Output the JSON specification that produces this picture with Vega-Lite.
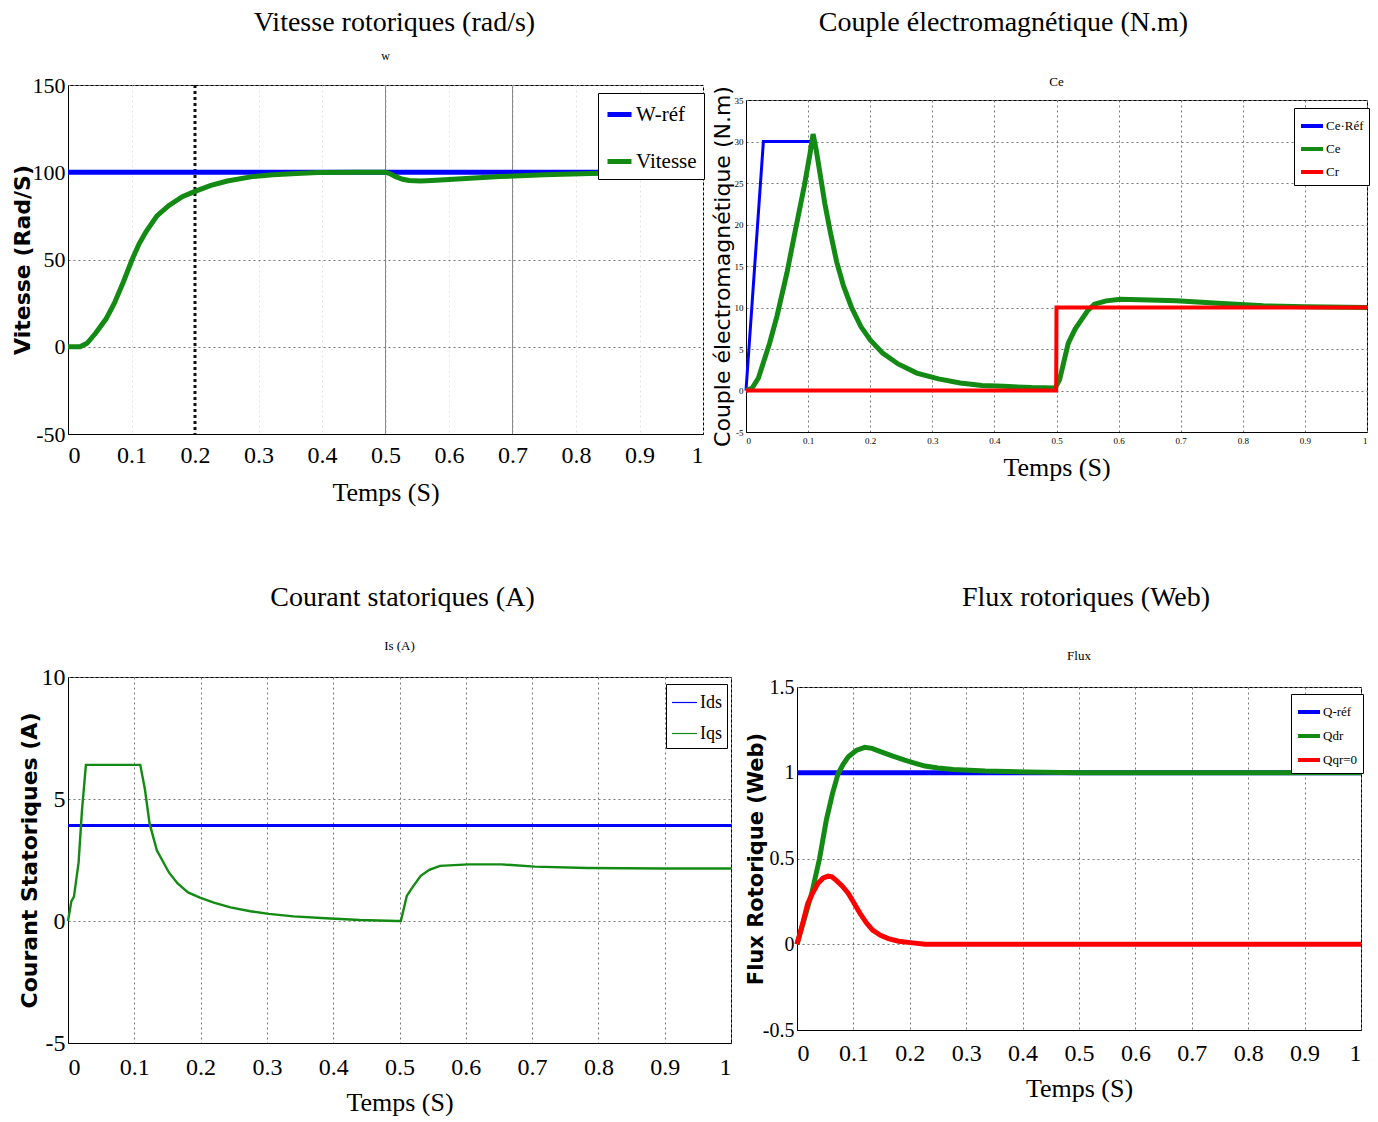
{
  "$schema": "https://vega.github.io/schema/vega-lite/v6.json",
  "background": "white",
  "padding": {"left": 10, "top": 8, "right": 0, "bottom": 0},
  "config": {
    "view": {"stroke": "black", "strokeWidth": 1},
    "axis": {"domainColor": "black", "ticks": false, "grid": true, "gridDash": [2, 3], "gridColor": "#777", "labelColor": "black", "titleColor": "black", "labelFont": "Liberation Serif", "titleFont": "Liberation Serif", "titleFontWeight": "normal", "labelPadding": 3, "labelExpr": "replace(datum.label, '−', '-')"},
    "title": {"font": "Liberation Serif", "fontWeight": "normal", "color": "black"}
  },
  "datasets": {
    "p1": [
      {"t": 0, "v": 100, "s": "W-réf"}, {"t": 1, "v": 100, "s": "W-réf"},
      {"t": 0, "v": 0, "s": "Vitesse"}, {"t": 0.019, "v": 0, "s": "Vitesse"}, {"t": 0.03, "v": 2, "s": "Vitesse"}, {"t": 0.044, "v": 8, "s": "Vitesse"}, {"t": 0.06, "v": 16, "s": "Vitesse"}, {"t": 0.073, "v": 25, "s": "Vitesse"}, {"t": 0.087, "v": 37, "s": "Vitesse"}, {"t": 0.101, "v": 50, "s": "Vitesse"}, {"t": 0.112, "v": 59, "s": "Vitesse"}, {"t": 0.123, "v": 66, "s": "Vitesse"}, {"t": 0.14, "v": 75, "s": "Vitesse"}, {"t": 0.159, "v": 81, "s": "Vitesse"}, {"t": 0.18, "v": 86, "s": "Vitesse"}, {"t": 0.2, "v": 89, "s": "Vitesse"}, {"t": 0.225, "v": 92.5, "s": "Vitesse"}, {"t": 0.251, "v": 95, "s": "Vitesse"}, {"t": 0.29, "v": 97.5, "s": "Vitesse"}, {"t": 0.323, "v": 98.5, "s": "Vitesse"}, {"t": 0.36, "v": 99.3, "s": "Vitesse"}, {"t": 0.394, "v": 99.8, "s": "Vitesse"}, {"t": 0.45, "v": 100, "s": "Vitesse"}, {"t": 0.5, "v": 100, "s": "Vitesse"}, {"t": 0.508, "v": 99, "s": "Vitesse"}, {"t": 0.516, "v": 97.5, "s": "Vitesse"}, {"t": 0.527, "v": 96, "s": "Vitesse"}, {"t": 0.537, "v": 95.3, "s": "Vitesse"}, {"t": 0.555, "v": 95, "s": "Vitesse"}, {"t": 0.573, "v": 95.3, "s": "Vitesse"}, {"t": 0.62, "v": 96.3, "s": "Vitesse"}, {"t": 0.68, "v": 97.5, "s": "Vitesse"}, {"t": 0.75, "v": 98.5, "s": "Vitesse"}, {"t": 0.823, "v": 99.3, "s": "Vitesse"}, {"t": 0.9, "v": 99.8, "s": "Vitesse"}, {"t": 1, "v": 100, "s": "Vitesse"}
    ],
    "p2": [
      {"t": 0, "v": 0, "s": "Ce·Réf"}, {"t": 0.028, "v": 30, "s": "Ce·Réf"}, {"t": 0.108, "v": 30, "s": "Ce·Réf"},
      {"t": 0, "v": 0, "s": "Ce"}, {"t": 0.01, "v": 0.3, "s": "Ce"}, {"t": 0.02, "v": 1.5, "s": "Ce"}, {"t": 0.038, "v": 5.7, "s": "Ce"}, {"t": 0.05, "v": 9, "s": "Ce"}, {"t": 0.066, "v": 14.2, "s": "Ce"}, {"t": 0.08, "v": 19.5, "s": "Ce"}, {"t": 0.094, "v": 24.7, "s": "Ce"}, {"t": 0.103, "v": 28.5, "s": "Ce"}, {"t": 0.108, "v": 30.9, "s": "Ce"}, {"t": 0.113, "v": 29, "s": "Ce"}, {"t": 0.118, "v": 26.7, "s": "Ce"}, {"t": 0.127, "v": 22.5, "s": "Ce"}, {"t": 0.136, "v": 19, "s": "Ce"}, {"t": 0.146, "v": 15.5, "s": "Ce"}, {"t": 0.157, "v": 12.6, "s": "Ce"}, {"t": 0.17, "v": 10, "s": "Ce"}, {"t": 0.185, "v": 7.7, "s": "Ce"}, {"t": 0.2, "v": 6.1, "s": "Ce"}, {"t": 0.22, "v": 4.5, "s": "Ce"}, {"t": 0.245, "v": 3.2, "s": "Ce"}, {"t": 0.275, "v": 2.1, "s": "Ce"}, {"t": 0.31, "v": 1.4, "s": "Ce"}, {"t": 0.345, "v": 0.9, "s": "Ce"}, {"t": 0.38, "v": 0.6, "s": "Ce"}, {"t": 0.415, "v": 0.5, "s": "Ce"}, {"t": 0.46, "v": 0.35, "s": "Ce"}, {"t": 0.498, "v": 0.3, "s": "Ce"}, {"t": 0.505, "v": 1.3, "s": "Ce"}, {"t": 0.512, "v": 3.5, "s": "Ce"}, {"t": 0.519, "v": 5.7, "s": "Ce"}, {"t": 0.53, "v": 7.4, "s": "Ce"}, {"t": 0.54, "v": 8.5, "s": "Ce"}, {"t": 0.55, "v": 9.6, "s": "Ce"}, {"t": 0.561, "v": 10.4, "s": "Ce"}, {"t": 0.58, "v": 10.8, "s": "Ce"}, {"t": 0.603, "v": 11, "s": "Ce"}, {"t": 0.65, "v": 10.9, "s": "Ce"}, {"t": 0.693, "v": 10.8, "s": "Ce"}, {"t": 0.76, "v": 10.5, "s": "Ce"}, {"t": 0.833, "v": 10.2, "s": "Ce"}, {"t": 0.9, "v": 10.1, "s": "Ce"}, {"t": 1, "v": 10, "s": "Ce"},
      {"t": 0, "v": 0, "s": "Cr"}, {"t": 0.4995, "v": 0, "s": "Cr"}, {"t": 0.5, "v": 10, "s": "Cr"}, {"t": 1, "v": 10, "s": "Cr"}
    ],
    "p3": [
      {"t": 0, "v": 3.91, "s": "Ids"}, {"t": 1, "v": 3.91, "s": "Ids"},
      {"t": 0, "v": 0, "s": "Iqs"}, {"t": 0.005, "v": 0.8, "s": "Iqs"}, {"t": 0.009, "v": 1.0, "s": "Iqs"}, {"t": 0.016, "v": 2.4, "s": "Iqs"}, {"t": 0.021, "v": 4.5, "s": "Iqs"}, {"t": 0.027, "v": 6.4, "s": "Iqs"}, {"t": 0.06, "v": 6.4, "s": "Iqs"}, {"t": 0.109, "v": 6.4, "s": "Iqs"}, {"t": 0.116, "v": 5.4, "s": "Iqs"}, {"t": 0.123, "v": 4.0, "s": "Iqs"}, {"t": 0.134, "v": 2.9, "s": "Iqs"}, {"t": 0.152, "v": 2.0, "s": "Iqs"}, {"t": 0.165, "v": 1.55, "s": "Iqs"}, {"t": 0.181, "v": 1.17, "s": "Iqs"}, {"t": 0.199, "v": 0.96, "s": "Iqs"}, {"t": 0.22, "v": 0.75, "s": "Iqs"}, {"t": 0.245, "v": 0.56, "s": "Iqs"}, {"t": 0.275, "v": 0.4, "s": "Iqs"}, {"t": 0.303, "v": 0.29, "s": "Iqs"}, {"t": 0.34, "v": 0.19, "s": "Iqs"}, {"t": 0.389, "v": 0.11, "s": "Iqs"}, {"t": 0.44, "v": 0.04, "s": "Iqs"}, {"t": 0.496, "v": 0, "s": "Iqs"}, {"t": 0.502, "v": 0, "s": "Iqs"}, {"t": 0.511, "v": 1.03, "s": "Iqs"}, {"t": 0.52, "v": 1.4, "s": "Iqs"}, {"t": 0.532, "v": 1.85, "s": "Iqs"}, {"t": 0.545, "v": 2.1, "s": "Iqs"}, {"t": 0.561, "v": 2.26, "s": "Iqs"}, {"t": 0.604, "v": 2.32, "s": "Iqs"}, {"t": 0.654, "v": 2.32, "s": "Iqs"}, {"t": 0.704, "v": 2.23, "s": "Iqs"}, {"t": 0.783, "v": 2.17, "s": "Iqs"}, {"t": 0.9, "v": 2.15, "s": "Iqs"}, {"t": 1, "v": 2.15, "s": "Iqs"}
    ],
    "p4": [
      {"t": 0, "v": 1, "s": "Q-réf"}, {"t": 1, "v": 1, "s": "Q-réf"},
      {"t": 0, "v": 0, "s": "Qdr"}, {"t": 0.026, "v": 0.296, "s": "Qdr"}, {"t": 0.04, "v": 0.5, "s": "Qdr"}, {"t": 0.052, "v": 0.724, "s": "Qdr"}, {"t": 0.063, "v": 0.88, "s": "Qdr"}, {"t": 0.073, "v": 0.996, "s": "Qdr"}, {"t": 0.082, "v": 1.05, "s": "Qdr"}, {"t": 0.091, "v": 1.093, "s": "Qdr"}, {"t": 0.105, "v": 1.13, "s": "Qdr"}, {"t": 0.12, "v": 1.148, "s": "Qdr"}, {"t": 0.133, "v": 1.142, "s": "Qdr"}, {"t": 0.148, "v": 1.123, "s": "Qdr"}, {"t": 0.17, "v": 1.097, "s": "Qdr"}, {"t": 0.191, "v": 1.074, "s": "Qdr"}, {"t": 0.21, "v": 1.055, "s": "Qdr"}, {"t": 0.227, "v": 1.039, "s": "Qdr"}, {"t": 0.25, "v": 1.028, "s": "Qdr"}, {"t": 0.277, "v": 1.019, "s": "Qdr"}, {"t": 0.334, "v": 1.01, "s": "Qdr"}, {"t": 0.406, "v": 1.004, "s": "Qdr"}, {"t": 0.5, "v": 1.0, "s": "Qdr"}, {"t": 1, "v": 1.0, "s": "Qdr"},
      {"t": 0, "v": 0, "s": "Qqr=0"}, {"t": 0.01, "v": 0.12, "s": "Qqr=0"}, {"t": 0.019, "v": 0.237, "s": "Qqr=0"}, {"t": 0.028, "v": 0.3, "s": "Qqr=0"}, {"t": 0.037, "v": 0.354, "s": "Qqr=0"}, {"t": 0.046, "v": 0.385, "s": "Qqr=0"}, {"t": 0.055, "v": 0.397, "s": "Qqr=0"}, {"t": 0.062, "v": 0.393, "s": "Qqr=0"}, {"t": 0.069, "v": 0.374, "s": "Qqr=0"}, {"t": 0.08, "v": 0.34, "s": "Qqr=0"}, {"t": 0.091, "v": 0.296, "s": "Qqr=0"}, {"t": 0.101, "v": 0.24, "s": "Qqr=0"}, {"t": 0.112, "v": 0.179, "s": "Qqr=0"}, {"t": 0.123, "v": 0.125, "s": "Qqr=0"}, {"t": 0.134, "v": 0.082, "s": "Qqr=0"}, {"t": 0.148, "v": 0.052, "s": "Qqr=0"}, {"t": 0.162, "v": 0.033, "s": "Qqr=0"}, {"t": 0.18, "v": 0.018, "s": "Qqr=0"}, {"t": 0.205, "v": 0.008, "s": "Qqr=0"}, {"t": 0.227, "v": 0, "s": "Qqr=0"}, {"t": 1, "v": 0, "s": "Qqr=0"}
    ]
  },
  "spacing": 77,
  "resolve": {"scale": {"color": "independent"}, "legend": {"color": "independent"}},
  "vconcat": [
    {
      "spacing": -4,
      "resolve": {"scale": {"color": "independent"}, "legend": {"color": "independent"}},
      "hconcat": [
        {
          "spacing": 2,
          "resolve": {"scale": {"color": "independent"}, "legend": {"color": "independent"}},
          "vconcat": [
            {
              "width": 635, "height": 1, "view": {"stroke": null},
              "data": {"values": [{}]}, "mark": {"type": "point", "opacity": 0}, "encoding": {},
              "title": {"text": "Vitesse rotoriques (rad/s)", "fontSize": 28, "offset": 4, "anchor": "middle", "dx": 9}
            },
            {
              "width": 635, "height": 349,
              "title": {"text": "w", "fontSize": 12, "offset": 11},
              "layer": [
                {
                  "data": {"values": [{"t": 0.5}, {"t": 0.7}]},
                  "mark": {"type": "rule", "color": "#888", "strokeWidth": 1},
                  "encoding": {"x": {"field": "t", "type": "quantitative", "scale": {"domain": [0, 1], "nice": false},
                    "axis": {"values": [0, 0.1, 0.2, 0.3, 0.4, 0.5, 0.6, 0.7, 0.8, 0.9, 1], "format": "~g", "labelFontSize": 24, "labelPadding": 9, "gridColor": "#e4e4e4", "title": "Temps (S)", "titleFontSize": 26, "titlePadding": 12}}}
                },
                {
                  "data": {"values": [{"t": 0.2}]},
                  "mark": {"type": "rule", "color": "#111", "strokeDash": [3, 3], "strokeWidth": 3},
                  "encoding": {"x": {"field": "t", "type": "quantitative"}}
                },
                {
                  "data": {"name": "p1"},
                  "transform": [{"filter": "datum.s === 'W-réf'"}],
                  "mark": {"type": "line", "strokeWidth": 5},
                  "encoding": {
                    "x": {"field": "t", "type": "quantitative"},
                    "y": {"field": "v", "type": "quantitative", "scale": {"domain": [-50, 150], "nice": false},
                      "axis": {"values": [-50, 0, 50, 100, 150], "labelFontSize": 22, "title": "Vitesse (Rad/S)", "titleFont": "DejaVu Sans", "titleFontWeight": "bold", "titleFontSize": 22, "titlePadding": -2}},
                    "color": {"field": "s", "type": "nominal", "scale": {"domain": ["W-réf", "Vitesse"], "range": ["#0000ff", "#138a13"]},
                      "legend": {"orient": "none", "legendX": 530, "legendY": 8, "title": null, "symbolType": "stroke", "symbolSize": 576, "symbolStrokeWidth": 5, "labelFont": "Liberation Serif", "labelFontSize": 21, "labelColor": "black", "strokeColor": "black", "fillColor": "white", "padding": 7, "rowPadding": 22, "labelOffset": 2}}
                  }
                },
                {
                  "data": {"name": "p1"},
                  "transform": [{"filter": "datum.s === 'Vitesse'"}],
                  "mark": {"type": "line", "strokeWidth": 5},
                  "encoding": {
                    "x": {"field": "t", "type": "quantitative"},
                    "y": {"field": "v", "type": "quantitative"},
                    "color": {"field": "s", "type": "nominal"}
                  }
                }
              ]
            }
          ]
        },
        {
          "spacing": 28,
          "resolve": {"scale": {"color": "independent"}, "legend": {"color": "independent"}},
          "vconcat": [
            {
              "width": 621, "height": 1, "view": {"stroke": null},
              "data": {"values": [{}]}, "mark": {"type": "point", "opacity": 0}, "encoding": {},
              "title": {"text": "Couple électromagnétique (N.m)", "fontSize": 28, "offset": 4, "anchor": "middle", "dx": -53}
            },
            {
              "width": 621, "height": 332,
              "title": {"text": "Ce", "fontSize": 13, "offset": -3},
              "layer": [
                {
                  "data": {"name": "p2"},
                  "transform": [{"filter": "datum.s === 'Ce·Réf'"}],
                  "mark": {"type": "line", "strokeWidth": 3},
                  "encoding": {
                    "x": {"field": "t", "type": "quantitative", "scale": {"domain": [0, 1], "nice": false},
                      "axis": {"values": [0, 0.1, 0.2, 0.3, 0.4, 0.5, 0.6, 0.7, 0.8, 0.9, 1], "format": "~g", "labelFontSize": 9, "labelPadding": 4, "title": "Temps (S)", "titleFontSize": 26, "titlePadding": 9}},
                    "y": {"field": "v", "type": "quantitative", "scale": {"domain": [-5, 35], "nice": false},
                      "axis": {"values": [-5, 0, 5, 10, 15, 20, 25, 30, 35], "labelFontSize": 9, "title": "Couple électromagnétique (N.m)", "titleFont": "DejaVu Sans", "titleFontSize": 22, "titlePadding": 0}},
                    "color": {"field": "s", "type": "nominal", "scale": {"domain": ["Ce·Réf", "Ce", "Cr"], "range": ["#0000ff", "#138a13", "#ff0000"]},
                      "legend": {"orient": "none", "legendX": 548, "legendY": 8, "title": null, "symbolType": "stroke", "symbolSize": 484, "symbolStrokeWidth": 4, "labelFont": "Liberation Serif", "labelFontSize": 13, "labelColor": "black", "strokeColor": "black", "fillColor": "white", "padding": 5, "rowPadding": 2, "labelOffset": 1}}
                  }
                },
                {
                  "data": {"name": "p2"},
                  "transform": [{"filter": "datum.s === 'Ce'"}],
                  "mark": {"type": "line", "strokeWidth": 5},
                  "encoding": {"x": {"field": "t", "type": "quantitative"}, "y": {"field": "v", "type": "quantitative"}, "color": {"field": "s", "type": "nominal"}}
                },
                {
                  "data": {"name": "p2"},
                  "transform": [{"filter": "datum.s === 'Cr'"}],
                  "mark": {"type": "line", "strokeWidth": 4},
                  "encoding": {"x": {"field": "t", "type": "quantitative"}, "y": {"field": "v", "type": "quantitative"}, "color": {"field": "s", "type": "nominal"}}
                }
              ]
            }
          ]
        }
      ]
    },
    {
      "spacing": 6,
      "resolve": {"scale": {"color": "independent"}, "legend": {"color": "independent"}},
      "hconcat": [
        {
          "spacing": 17,
          "resolve": {"scale": {"color": "independent"}, "legend": {"color": "independent"}},
          "vconcat": [
            {
              "width": 663, "height": 1, "view": {"stroke": null},
              "data": {"values": [{}]}, "mark": {"type": "point", "opacity": 0}, "encoding": {},
              "title": {"text": "Courant statoriques (A)", "fontSize": 28, "offset": 4, "anchor": "middle", "dx": 3}
            },
            {
              "width": 663, "height": 366,
              "title": {"text": "Is (A)", "fontSize": 13, "offset": 12},
              "layer": [
                {
                  "data": {"name": "p3"},
                  "transform": [{"filter": "datum.s === 'Ids'"}],
                  "mark": {"type": "line", "strokeWidth": 3},
                  "encoding": {
                    "x": {"field": "t", "type": "quantitative", "scale": {"domain": [0, 1], "nice": false},
                      "axis": {"values": [0, 0.1, 0.2, 0.3, 0.4, 0.5, 0.6, 0.7, 0.8, 0.9, 1], "format": "~g", "labelFontSize": 24, "labelPadding": 12, "title": "Temps (S)", "titleFontSize": 26, "titlePadding": 10}},
                    "y": {"field": "v", "type": "quantitative", "scale": {"domain": [-5, 10], "nice": false},
                      "axis": {"values": [-5, 0, 5, 10], "labelFontSize": 24, "title": "Courant Statoriques (A)", "titleFont": "DejaVu Sans", "titleFontWeight": "bold", "titleFontSize": 22, "titlePadding": 0}},
                    "color": {"field": "s", "type": "nominal", "scale": {"domain": ["Ids", "Iqs"], "range": ["#0000ff", "#138a13"]},
                      "legend": {"orient": "none", "legendX": 598, "legendY": 7, "title": null, "symbolType": "stroke", "symbolSize": 625, "symbolStrokeWidth": 1.2, "labelFont": "Liberation Serif", "labelFontSize": 18, "labelColor": "black", "strokeColor": "black", "fillColor": "white", "padding": 5, "rowPadding": 8, "labelOffset": 2}}
                  }
                },
                {
                  "data": {"name": "p3"},
                  "transform": [{"filter": "datum.s === 'Iqs'"}],
                  "mark": {"type": "line", "strokeWidth": 2.4},
                  "encoding": {"x": {"field": "t", "type": "quantitative"}, "y": {"field": "v", "type": "quantitative"}, "color": {"field": "s", "type": "nominal"}}
                }
              ]
            }
          ]
        },
        {
          "spacing": 27,
          "resolve": {"scale": {"color": "independent"}, "legend": {"color": "independent"}},
          "vconcat": [
            {
              "width": 564, "height": 1, "view": {"stroke": null},
              "data": {"values": [{}]}, "mark": {"type": "point", "opacity": 0}, "encoding": {},
              "title": {"text": "Flux rotoriques  (Web)", "fontSize": 28, "offset": 4, "anchor": "middle", "dx": 7}
            },
            {
              "width": 564, "height": 343,
              "title": {"text": "Flux", "fontSize": 13, "offset": 14},
              "layer": [
                {
                  "data": {"name": "p4"},
                  "transform": [{"filter": "datum.s === 'Q-réf'"}],
                  "mark": {"type": "line", "strokeWidth": 5},
                  "encoding": {
                    "x": {"field": "t", "type": "quantitative", "scale": {"domain": [0, 1], "nice": false},
                      "axis": {"values": [0, 0.1, 0.2, 0.3, 0.4, 0.5, 0.6, 0.7, 0.8, 0.9, 1], "format": "~g", "labelFontSize": 24, "labelPadding": 11, "title": "Temps (S)", "titleFontSize": 26, "titlePadding": 10}},
                    "y": {"field": "v", "type": "quantitative", "scale": {"domain": [-0.5, 1.5], "nice": false},
                      "axis": {"values": [-0.5, 0, 0.5, 1, 1.5], "format": "~g", "labelFontSize": 20, "title": "Flux Rotorique (Web)", "titleFont": "DejaVu Sans", "titleFontWeight": "bold", "titleFontSize": 21, "titlePadding": -4}},
                    "color": {"field": "s", "type": "nominal", "scale": {"domain": ["Q-réf", "Qdr", "Qqr=0"], "range": ["#0000ff", "#138a13", "#ff0000"]},
                      "legend": {"orient": "none", "legendX": 494, "legendY": 7, "title": null, "symbolType": "stroke", "symbolSize": 484, "symbolStrokeWidth": 4, "labelFont": "Liberation Serif", "labelFontSize": 13, "labelColor": "black", "strokeColor": "black", "fillColor": "white", "padding": 5, "rowPadding": 3, "labelOffset": 1}}
                  }
                },
                {
                  "data": {"name": "p4"},
                  "transform": [{"filter": "datum.s === 'Qdr'"}],
                  "mark": {"type": "line", "strokeWidth": 5},
                  "encoding": {"x": {"field": "t", "type": "quantitative"}, "y": {"field": "v", "type": "quantitative"}, "color": {"field": "s", "type": "nominal"}}
                },
                {
                  "data": {"name": "p4"},
                  "transform": [{"filter": "datum.s === 'Qqr=0'"}],
                  "mark": {"type": "line", "strokeWidth": 5},
                  "encoding": {"x": {"field": "t", "type": "quantitative"}, "y": {"field": "v", "type": "quantitative"}, "color": {"field": "s", "type": "nominal"}}
                }
              ]
            }
          ]
        }
      ]
    }
  ]
}
